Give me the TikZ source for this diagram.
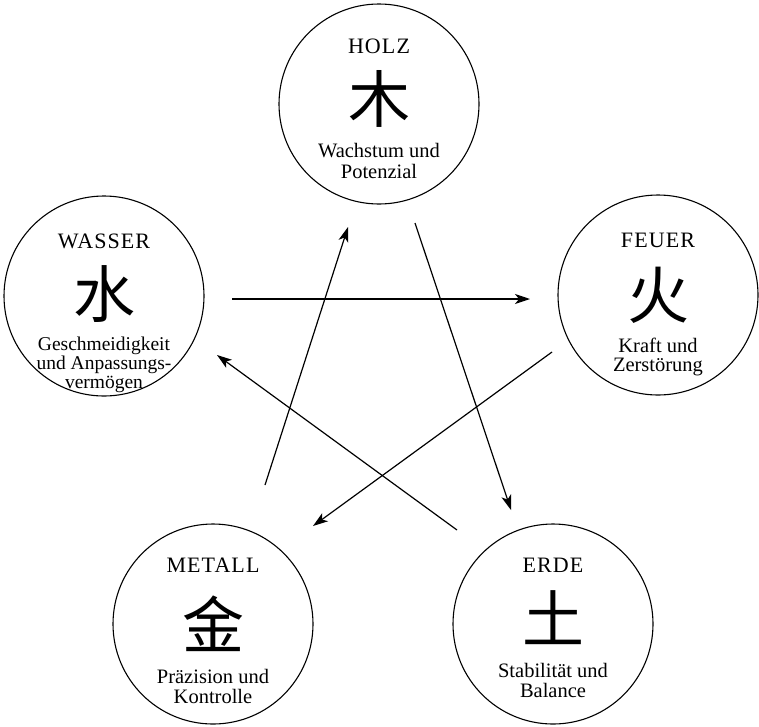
\documentclass[tikz,border=0pt]{standalone}
\usepackage{fontspec}
\setmainfont{Liberation Serif}
\newfontfamily\ttlfont[LetterSpace=5]{Liberation Serif}
\newfontfamily\cjk{Noto Sans CJK SC}
\usetikzlibrary{arrows.meta}
\begin{document}
\begin{tikzpicture}[x=1pt,y=-1pt,
  elem/.style={circle,draw,line width=1.1pt,minimum size=200pt,inner sep=0pt},
  ttl/.style={anchor=base,font=\ttlfont\fontsize{22}{22}\selectfont,inner sep=0pt},
  hz/.style={anchor=center,font=\cjk\fontsize{62}{62}\selectfont,inner sep=0pt},
  txt/.style={anchor=base,font=\fontsize{20.5}{20.5}\selectfont,inner sep=0pt},
  txts/.style={anchor=base,font=\fontsize{19.5}{19.5}\selectfont,inner sep=0pt},
  flow/.style={line width=1.2pt,-{Stealth[length=15pt,width=10pt,inset=4pt]}}]
\useasboundingbox (0,0) rectangle (759,726);

% circles
\node[elem] (holz)   at (379,104) {};
\node[elem] (feuer)  at (658,295) {};
\node[elem] (wasser) at (104,296) {};
\node[elem] (metall) at (213,624) {};
\node[elem] (erde)   at (553,624) {};

% HOLZ
\node[ttl] (holzT) at (379,53) {HOLZ};
\node[hz]  (holzC) at (379,99) {木};
\node[txt] (holzA) at (379,157) {Wachstum und};
\node[txt] (holzB) at (379,178) {Potenzial};

% FEUER
\node[ttl] (feuerT) at (658,247) {FEUER};
\node[hz]  (feuerC) at (658,295) {火};
\node[txt] (feuerA) at (658,352) {Kraft und};
\node[txt] (feuerB) at (658,371) {Zerstörung};

% WASSER
\node[ttl]  (wasserT) at (104,248) {WASSER};
\node[hz]   (wasserC) at (104,294) {水};
\node[txts] (wasserA) at (104,350) {Geschmeidigkeit};
\node[txts] (wasserB) at (104,369) {und Anpassungs-};
\node[txts] (wasserD) at (104,388) {vermögen};

% METALL
\node[ttl] (metallT) at (213,572) {METALL};
\node[hz]  (metallC) at (213,624) {金};
\node[txt] (metallA) at (213,683) {Präzision und};
\node[txt] (metallB) at (213,703) {Kontrolle};

% ERDE
\node[ttl] (erdeT) at (553,572) {ERDE};
\node[hz]  (erdeC) at (553,618) {土};
\node[txt] (erdeA) at (553,677) {Stabilität und};
\node[txt] (erdeB) at (553,697) {Balance};

% arrow end points
\coordinate (wf1) at (232,299);
\coordinate (wf2) at (530,299);
\coordinate (he1) at (415,223);
\coordinate (he2) at (511,510);
\coordinate (ew1) at (457,530);
\coordinate (ew2) at (217,355);
\coordinate (fm1) at (552,352);
\coordinate (fm2) at (313,526);
\coordinate (mh1) at (265,485);
\coordinate (mh2) at (348,227);

\draw[flow] (wf1) -- (wf2);
\draw[flow] (he1) -- (he2);
\draw[flow] (ew1) -- (ew2);
\draw[flow] (fm1) -- (fm2);
\draw[flow] (mh1) -- (mh2);
\end{tikzpicture}
\end{document}
